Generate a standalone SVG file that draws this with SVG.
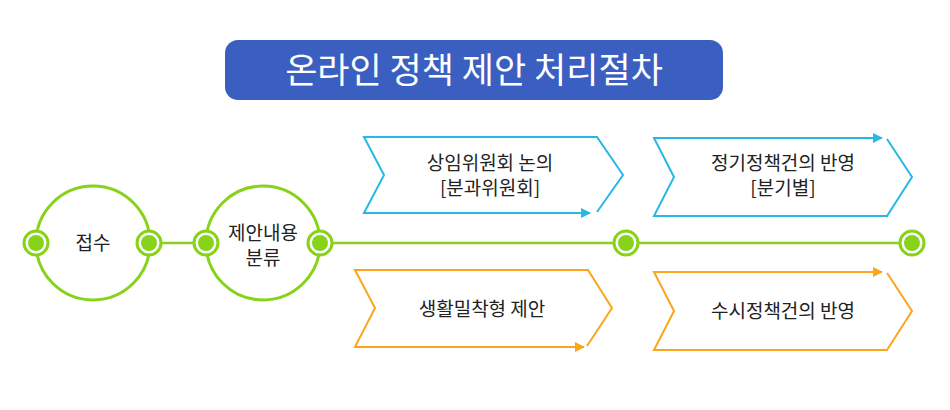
<svg xmlns="http://www.w3.org/2000/svg" width="950" height="410" viewBox="0 0 950 410">
<defs>
<style>
text{font-family:"Noto Sans CJK KR","Noto Sans",sans-serif;fill:#222;text-anchor:middle}
.t{font-size:19px}
.big{fill:#fff;stroke:#86d31a;stroke-width:3}
.dotr{fill:#fff;stroke:#86d31a;stroke-width:3}
.dot{fill:#86d31a}
.b{fill:none;stroke:#27b8e6;stroke-width:2}
.o{fill:none;stroke:#fba51c;stroke-width:2}
</style>
<marker id="ab" viewBox="0 0 10 10" refX="9" refY="5" markerWidth="5" markerHeight="5" orient="auto"><path d="M0,0L10,5L0,10z" fill="#27b8e6"/></marker>
<marker id="ao" viewBox="0 0 10 10" refX="9" refY="5" markerWidth="5" markerHeight="5" orient="auto"><path d="M0,0L10,5L0,10z" fill="#fba51c"/></marker>
</defs>
<g id="title"><rect x="225" y="40" width="498" height="60" rx="13" fill="#3b5fc1"/><text x="474" y="83" style="font-size:35px;fill:#fff">온라인 정책 제안 처리절차</text></g>
<g id="connectors"><line x1="36" y1="243" x2="912" y2="243" stroke="#86d31a" stroke-width="2.5"/></g>
<g id="n1"><circle class="big" cx="93" cy="243" r="57"/><text class="t" x="93" y="250">접수</text></g>
<g id="n2"><circle class="big" cx="263" cy="243" r="57"/><text class="t" x="263" y="240">제안내용</text><text class="t" x="263" y="265">분류</text></g>
<g id="dots">
<g><circle class="dotr" cx="36" cy="243" r="12"/><circle class="dot" cx="36" cy="243" r="8"/></g>
<g><circle class="dotr" cx="149" cy="243" r="12"/><circle class="dot" cx="149" cy="243" r="8"/></g>
<g><circle class="dotr" cx="206" cy="243" r="12"/><circle class="dot" cx="206" cy="243" r="8"/></g>
<g><circle class="dotr" cx="320" cy="243" r="12"/><circle class="dot" cx="320" cy="243" r="8"/></g>
<g><circle class="dotr" cx="626" cy="243" r="12"/><circle class="dot" cx="626" cy="243" r="8"/></g>
<g><circle class="dotr" cx="912" cy="243" r="12"/><circle class="dot" cx="912" cy="243" r="8"/></g>
</g>
<g id="n3"><path class="b" d="M597,212L623,175L597,137L364,137L384,175L364,213L590,213" marker-end="url(#ab)"/><text class="t" x="490" y="170">상임위원회 논의</text><text class="t" x="490" y="195">[분과위원회]</text></g>
<g id="n4"><path class="o" d="M587,346L612,308L588,270L355,270L375,308L355,347L584,347" marker-end="url(#ao)"/><text class="t" x="482" y="316">생활밀착형 제안</text></g>
<g id="n5"><path class="b" d="M887,139L912,177L887,216L654,216L674,177L654,138L882,138" marker-end="url(#ab)"/><text class="t" x="783" y="170">정기정책건의 반영</text><text class="t" x="783" y="195">[분기별]</text></g>
<g id="n6"><path class="o" d="M887,273L912,311L887,350L654,350L674,311L654,272L882,272" marker-end="url(#ao)"/><text class="t" x="783" y="318">수시정책건의 반영</text></g>
</svg>
